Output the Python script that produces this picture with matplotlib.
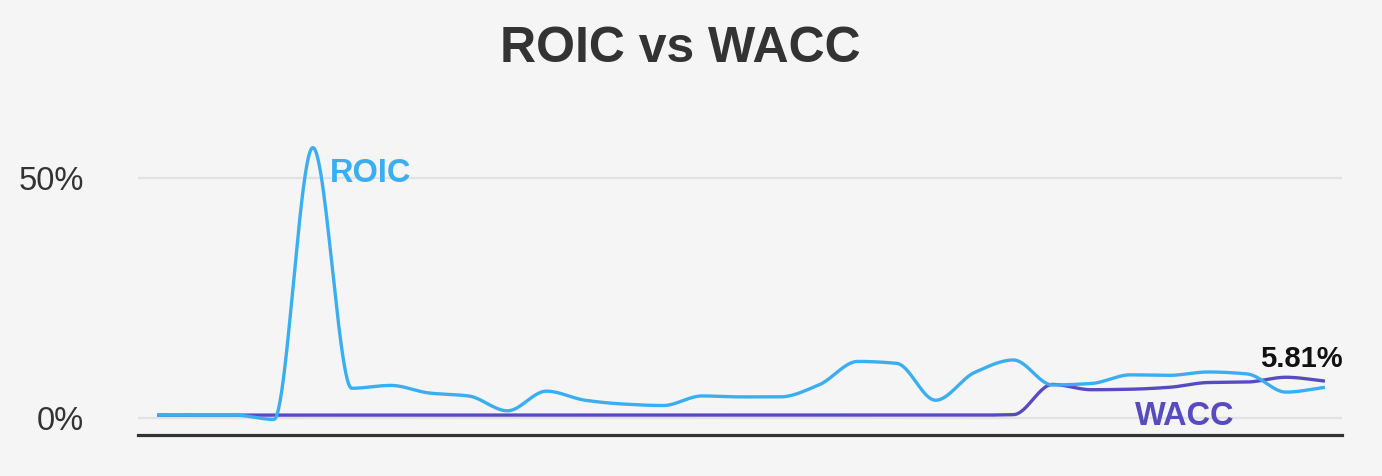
import numpy as np
import matplotlib
matplotlib.use("Agg")
import matplotlib.pyplot as plt

plt.rcParams['font.family'] = ['Liberation Sans', 'DejaVu Sans']

# quarterly readings, in percent
roic = [0.5, 0.5, 0.5, -0.4, 56.3, 6.1, 6.7, 5.1, 4.5, 1.4,
        5.5, 3.6, 2.8, 2.5, 4.5, 4.3, 4.3, 6.8, 11.7, 11.3,
        3.6, 9.4, 12.0, 6.8, 7.1, 8.9, 8.8, 9.5, 9.1, 5.3, 6.3]
wacc = [0.5, 0.5, 0.5, 0.5, 0.5, 0.5, 0.5, 0.5, 0.5, 0.5,
        0.5, 0.5, 0.5, 0.5, 0.5, 0.5, 0.5, 0.5, 0.5, 0.5,
        0.5, 0.5, 0.6, 6.9, 5.8, 5.9, 6.3, 7.3, 7.4, 8.4, 7.6]
ytick_vals = [0, 50]
ytick_labels = ["0%", "50%"]
last_label = "5.81%"

BG = "#f5f5f5"
C_ROIC = "#3aaef0"
C_WACC = "#574bc0"


def pchip(x, y, xs):
    # monotone cubic, keeps the curve flat at local peaks and dips
    x = np.asarray(x, float)
    y = np.asarray(y, float)
    h = np.diff(x)
    d = np.diff(y) / h
    m = np.zeros_like(y)
    for i in range(1, len(y) - 1):
        if d[i - 1] * d[i] > 0:
            w1 = 2 * h[i] + h[i - 1]
            w2 = h[i] + 2 * h[i - 1]
            m[i] = (w1 + w2) / (w1 / d[i - 1] + w2 / d[i])
    m[0] = d[0]
    m[-1] = d[-1]
    idx = np.clip(np.searchsorted(x, xs) - 1, 0, len(x) - 2)
    t = (xs - x[idx]) / h[idx]
    h00 = 2 * t**3 - 3 * t**2 + 1
    h10 = t**3 - 2 * t**2 + t
    h01 = -2 * t**3 + 3 * t**2
    h11 = t**3 - t**2
    return (h00 * y[idx] + h10 * h[idx] * m[idx]
            + h01 * y[idx + 1] + h11 * h[idx] * m[idx + 1])


x = np.arange(len(roic))
xs = np.linspace(0, len(roic) - 1, 1500)

fig = plt.figure(figsize=(13.82, 4.76), dpi=100, facecolor=BG)
ax = fig.add_axes([0.0999, 0.0861, 0.8712, 0.641])
ax.set_facecolor(BG)

for v in ytick_vals:
    ax.axhline(v, color="#e2e2e2", lw=1.6, zorder=0)

ax.plot(xs, pchip(x, wacc, xs), color=C_WACC, lw=2.4, solid_capstyle="butt", zorder=2)
ax.plot(xs, pchip(x, roic, xs), color=C_ROIC, lw=2.4, solid_capstyle="butt", zorder=3)

ax.set_xlim(-0.49, 30.44)
ax.set_ylim(-3.65, 60)

for s in ["top", "right", "left"]:
    ax.spines[s].set_visible(False)
ax.spines["bottom"].set_color("#333333")
ax.spines["bottom"].set_linewidth(2.3)
ax.set_xticks([])
ax.set_yticks(ytick_vals)
ax.set_yticklabels(ytick_labels, fontsize=23.5, color="#333333")
ax.tick_params(axis="y", length=0, pad=39)

ax.text(4.44, 51.0, "ROIC", color=C_ROIC, fontsize=23.5, fontweight="bold",
        ha="left", va="center")
ax.text(26.4, 0.2, "WACC", color=C_WACC, fontsize=23.5, fontweight="bold",
        ha="center", va="center")
ax.text(29.4, 12.3, last_label, color="#111111", fontsize=21, fontweight="bold",
        ha="center", va="center")

fig.text(0.492, 0.897, "ROIC vs WACC", ha="center", va="center",
         fontsize=36, fontweight="bold", color="#333333")

fig.savefig("out.png", dpi=100, facecolor=BG)
